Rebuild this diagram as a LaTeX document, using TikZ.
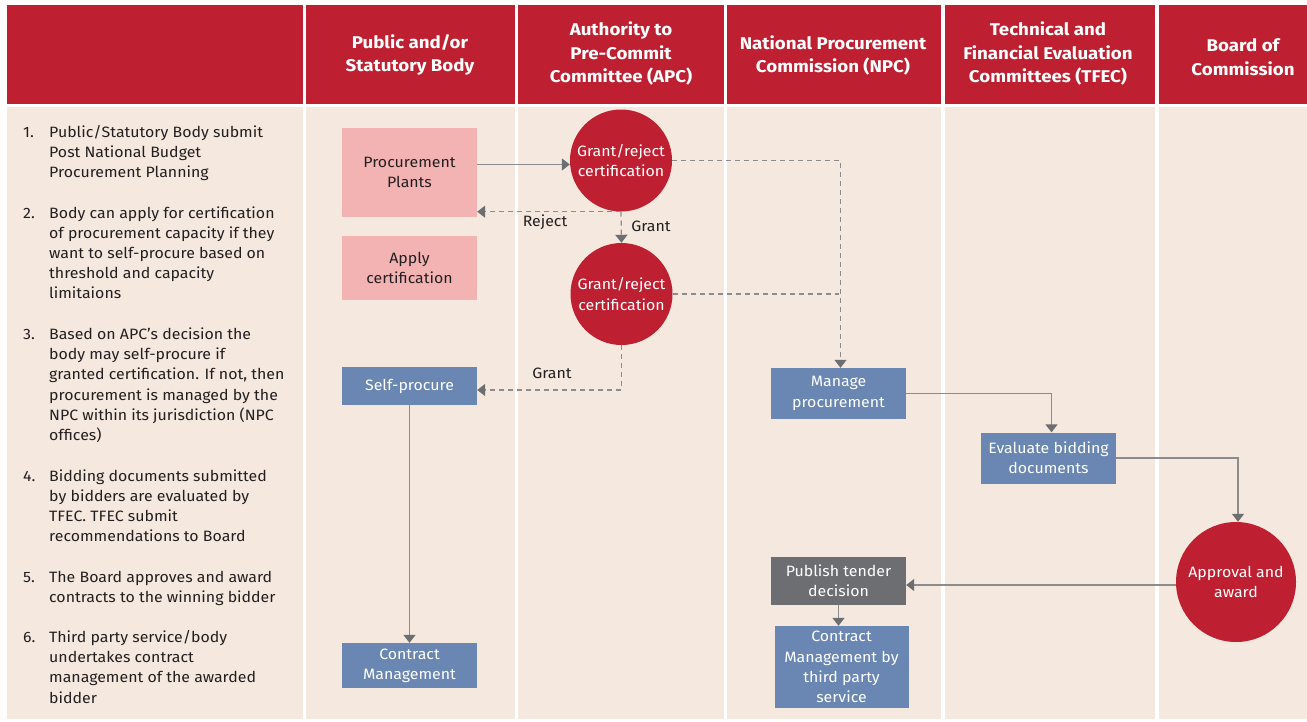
\documentclass[tikz,border=0pt]{standalone}
\usepackage{fontspec}
\setmainfont{Fira Sans}[FakeStretch=1.06]
\newfontfamily\hdrfont{Fira Sans}[FakeStretch=1.1]
\usetikzlibrary{arrows.meta,calc}
\definecolor{hdrred}{HTML}{BE2032}
\definecolor{bodybg}{HTML}{F5E8DE}
\definecolor{pinkbox}{HTML}{F4B3B3}
\definecolor{bluebox}{HTML}{6A86B2}
\definecolor{darkbox}{HTML}{6D6E71}
\definecolor{linegray}{HTML}{8C8C8E}
\definecolor{tipgray}{HTML}{6D6E71}
\definecolor{txt}{HTML}{231F20}
\begin{document}
\begin{tikzpicture}[x=1pt,y=-1pt,
  hdr/.style={font=\hdrfont\bfseries\fontsize{17}{23.5}\selectfont, text=white, align=center, inner sep=0},
  lst/.style={font=\fontsize{15}{20.2}\selectfont, text=txt, align=left, anchor=base west, inner sep=0},
  bx/.style={rectangle, inner sep=0, align=center, font=\fontsize{15}{20.2}\selectfont},
  pinkbx/.style={bx, fill=pinkbox, text=txt},
  bluebx/.style={bx, fill=bluebox, text=white},
  darkbx/.style={bx, fill=darkbox, text=white},
  circ/.style={circle, fill=hdrred, text=white, inner sep=0, align=center, font=\fontsize{15}{20.2}\selectfont},
  lbl/.style={font=\fontsize{15}{18}\selectfont, text=txt, inner sep=0},
  flow/.style={draw=linegray, line width=1.5pt, -{Triangle[width=12pt,length=8pt,color=tipgray]}},
  dline/.style={draw=linegray, line width=1.3pt, dash pattern=on 5pt off 4pt},
  dflow/.style={dline, -{Triangle[width=12pt,length=8pt,color=tipgray]}}
]
\useasboundingbox (0,0) rectangle (1307,721);
\fill[white] (0,0) rectangle (1307,721);
% header cells
\fill[hdrred] (7,5) rectangle (302.5,104);
\fill[hdrred] (305.5,5) rectangle (514.5,104);
\fill[hdrred] (517.5,5) rectangle (723.5,104);
\fill[hdrred] (727,5) rectangle (941,104);
\fill[hdrred] (945,5) rectangle (1155,104);
\fill[hdrred] (1158.5,5) rectangle (1307,104);
% body cells
\fill[bodybg] (7,107) rectangle (302.5,719);
\fill[bodybg] (305.5,107) rectangle (514.5,719);
\fill[bodybg] (517.5,107) rectangle (723.5,719);
\fill[bodybg] (727,107) rectangle (941,719);
\fill[bodybg] (945,107) rectangle (1155,719);
\fill[bodybg] (1158.5,107) rectangle (1307,719);
% header texts
\node[hdr] (h1) at (410,55) {Public and/or\\Statutory Body};
\node[hdr] (h2) at (621,53.5) {Authority to\\Pre-Commit\\Committee (APC)};
\node[hdr] (h3) at (833,55.5) {National Procurement\\Commission (NPC)};
\node[hdr] (h4) at (1048,53.5) {Technical and\\Financial Evaluation\\Committees (TFEC)};
\node[hdr] (h5) at (1243,57) {Board of\\Commission};
% list (anchored at the baseline of the last line)
\node[lst] (n1) at (23,137) {1.};
\node[lst] (t1) at (49,177.4) {Public/Statutory Body submit\\Post National Budget\\Procurement Planning};
\node[lst] (n2) at (23,218) {2.};
\node[lst] (t2) at (49,298.8) {Body can apply for certification\\of procurement capacity if they\\want to self-procure based on\\threshold and capacity\\limitaions};
\node[lst] (n3) at (23,339.5) {3.};
\node[lst] (t3) at (49,440.5) {Based on APC's decision the\\body may self-procure if\\granted certification. If not, then\\procurement is managed by the\\NPC within its jurisdiction (NPC\\offices)};
\node[lst] (n4) at (23,481) {4.};
\node[lst] (t4) at (49,541.6) {Bidding documents submitted\\by bidders are evaluated by\\TFEC. TFEC submit\\recommendations to Board};
\node[lst] (n5) at (23,582) {5.};
\node[lst] (t5) at (49,602.2) {The Board approves and award\\contracts to the winning bidder};
\node[lst] (n6) at (23,642.5) {6.};
\node[lst] (t6) at (49,703.1) {Third party service/body\\undertakes contract\\management of the awarded\\bidder};
% flow nodes
\node[pinkbx, minimum width=135pt, minimum height=89pt] (pp) at (409.5,172.5) {Procurement\\Plants};
\node[pinkbx, minimum width=135pt, minimum height=64pt] (ac) at (409.5,268) {Apply\\certification};
\node[bluebx, minimum width=135pt, minimum height=38pt] (sp) at (409.5,386) {Self-procure};
\node[bluebx, minimum width=135pt, minimum height=45pt] (cm) at (409.5,665.5) {Contract\\Management};
\node[circ, minimum size=102pt] (c1) at (621,160.5) {Grant/reject\\certification};
\node[circ, minimum size=102pt] (c2) at (621.5,294) {Grant/reject\\certification};
\node[bluebx, minimum width=135pt, minimum height=51pt] (mp) at (838.5,393.5) {Manage\\procurement};
\node[bluebx, minimum width=135pt, minimum height=51pt] (eb) at (1048.5,458) {Evaluate bidding\\documents};
\node[darkbx, minimum width=135pt, minimum height=48pt] (pt) at (838.5,581) {Publish tender\\decision};
\node[bluebx, minimum width=134pt, minimum height=82pt] (ct) at (841.5,667) {Contract\\Management by\\third party\\service};
\node[circ, minimum size=120pt] (aa) at (1236,582) {Approval and\\award};
% connectors
\draw[flow] ([yshift=8pt]pp.east) -- ([yshift=8pt]pp.east -| c1.west);
\draw[dflow] (c1.south) -- (c1.south -| pp.east);
\node[lbl] (lr) at (545,222) {Reject};
\draw[dflow] (c1.south) -- (c2.north);
\node[lbl] (lg1) at (651,226) {Grant};
\draw[dflow] (c1.east) -| ([xshift=2pt]mp.north);
\draw[dline] (c2.east) -- (c2.east -| mp.north);
\draw[dflow] (c2.south) |- ([yshift=-4pt]sp.east);
\node[lbl] (lg2) at (552,373) {Grant};
\draw[flow] (sp.south) -- (cm.north);
\draw[flow] (mp.east) -| ([xshift=3pt]eb.north);
\draw[flow] (eb.east) -| ([xshift=2pt]aa.north);
\draw[flow] ([yshift=-3pt]aa.west) -- ([yshift=-3pt]aa.west -| pt.east);
\draw[flow] (pt.south) -- (pt.south |- ct.north);
\end{tikzpicture}
\end{document}
